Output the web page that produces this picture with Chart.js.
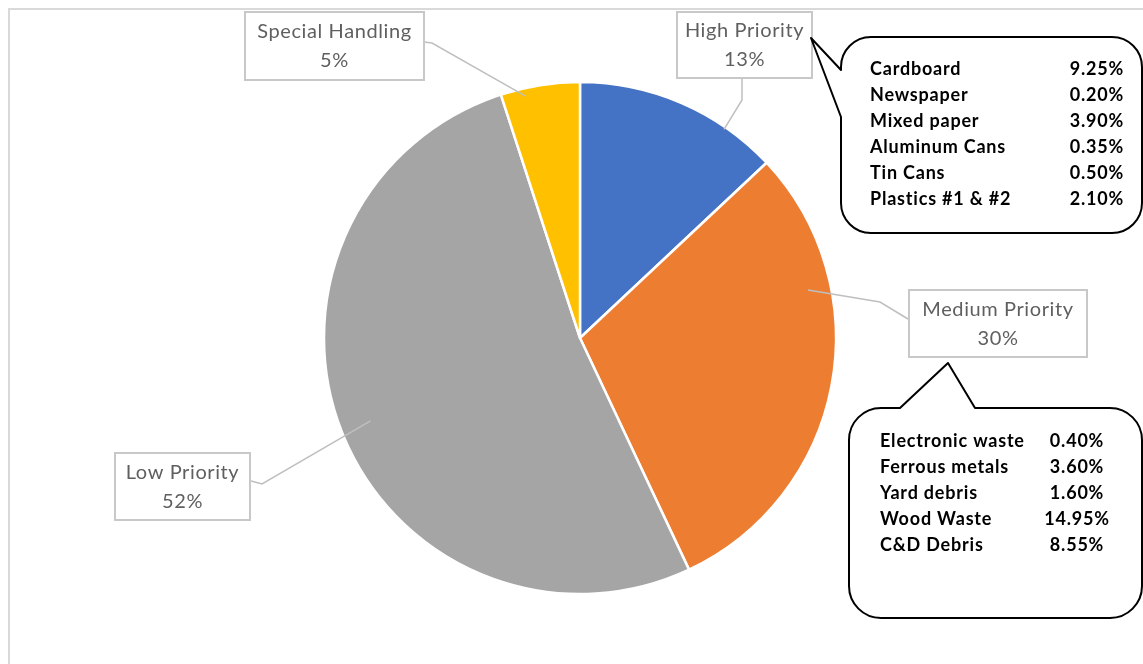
<!DOCTYPE html>
<html>
<head>
<meta charset="utf-8">
<title>Waste stream priority</title>
<script src="https://cdn.jsdelivr.net/npm/chart.js@4.4.1/dist/chart.umd.min.js"></script>
<style>
  html, body { margin: 0; padding: 0; background: #ffffff; }
  #wrap { width: 1143px; height: 664px; position: relative; overflow: hidden; }
</style>
</head>
<body>
<div id="wrap"><canvas id="pie" width="1143" height="664"></canvas></div>
<script>
// Share of the waste stream by handling priority
const categories = ['High Priority', 'Medium Priority', 'Low Priority', 'Special Handling'];
const shares = [13, 30, 52, 5];
const sliceColors = ['#4472C4', '#ED7D31', '#A5A5A5', '#FFC000'];

// Breakdown of the high priority group
const highItems = ['Cardboard', 'Newspaper', 'Mixed paper', 'Aluminum Cans', 'Tin Cans', 'Plastics #1 & #2'];
const highValues = [9.25, 0.20, 3.90, 0.35, 0.50, 2.10];

// Breakdown of the medium priority group
const mediumItems = ['Electronic waste', 'Ferrous metals', 'Yard debris', 'Wood Waste', 'C&D Debris'];
const mediumValues = [0.40, 3.60, 1.60, 14.95, 8.55];

const LABEL_FONT = '20px Lato, "Liberation Sans", sans-serif';
const BOLD_FONT = 'bold 18px Lato, "Liberation Sans", sans-serif';

// Label boxes and their leader lines; the line starts on the slice itself
const labelLayout = [
  { box: [677, 12, 135, 66], along: 0.74, depth: 0.99, path: [[742, 100], [742, 78]] },
  { box: [909, 290, 178, 67], along: 0.29, depth: 0.91, path: [[880, 302], [908, 319]] },
  { box: [115, 453, 135, 67], along: 0.50, depth: 0.88, path: [[262, 484], [251, 481]] },
  { box: [245, 12, 179, 68], along: 0.29, depth: 0.97, path: [[432, 43], [424, 42]] }
];

function pct(v) { return v.toFixed(2) + '%'; }

const annotationPlugin = {
  id: 'pieAnnotations',
  beforeDraw(chart) {
    const ctx = chart.ctx;
    ctx.save();
    ctx.strokeStyle = '#d9d9d9';
    ctx.lineWidth = 2;
    ctx.strokeRect(9, 9, 1200, 700);
    ctx.restore();
  },
  afterDraw(chart) {
    const ctx = chart.ctx;
    const arcs = chart.getDatasetMeta(0).data;
    ctx.save();

    // leader lines
    labelLayout.forEach((lay, i) => {
      const p = arcs[i].getProps(['x', 'y', 'startAngle', 'endAngle', 'outerRadius'], true);
      const a = p.startAngle + (p.endAngle - p.startAngle) * lay.along;
      const ax = p.x + Math.cos(a) * p.outerRadius * lay.depth;
      const ay = p.y + Math.sin(a) * p.outerRadius * lay.depth;
      ctx.beginPath();
      ctx.moveTo(ax, ay);
      lay.path.forEach(pt => ctx.lineTo(pt[0], pt[1]));
      ctx.strokeStyle = '#bfbfbf';
      ctx.lineWidth = 1.5;
      ctx.stroke();
    });

    // label boxes
    labelLayout.forEach((lay, i) => {
      const [bx, by, bw, bh] = lay.box;
      ctx.fillStyle = '#ffffff';
      ctx.fillRect(bx, by, bw, bh);
      ctx.strokeStyle = '#c8c8c8';
      ctx.lineWidth = 2;
      ctx.strokeRect(bx, by, bw, bh);
      ctx.fillStyle = '#5f5f5f';
      ctx.font = LABEL_FONT;
      ctx.letterSpacing = '0.6px';
      ctx.textAlign = 'center';
      ctx.textBaseline = 'middle';
      const cx = bx + bw / 2;
      ctx.fillText(categories[i], cx, by + bh / 2 - 14);
      ctx.fillText(shares[i] + '%', cx, by + bh / 2 + 15);
    });
    ctx.letterSpacing = '0px';

    // speech-bubble callouts
    function bubble(build) {
      ctx.beginPath();
      build();
      ctx.closePath();
      ctx.fillStyle = '#ffffff';
      ctx.fill();
      ctx.strokeStyle = '#000000';
      ctx.lineWidth = 2;
      ctx.lineJoin = 'round';
      ctx.stroke();
    }

    // high priority bubble, tail on its left side
    bubble(() => {
      const x0 = 841, y0 = 37, x1 = 1142, y1 = 233, r = 30;
      ctx.moveTo(x0 + r, y0);
      ctx.lineTo(x1 - r, y0);
      ctx.arcTo(x1, y0, x1, y0 + r, r);
      ctx.lineTo(x1, y1 - r);
      ctx.arcTo(x1, y1, x1 - r, y1, r);
      ctx.lineTo(x0 + r, y1);
      ctx.arcTo(x0, y1, x0, y1 - r, r);
      ctx.lineTo(x0, 117);
      ctx.lineTo(811, 38);
      ctx.lineTo(x0, 70);
      ctx.arcTo(x0, y0, x0 + r, y0, r);
    });

    // medium priority bubble, tail on its top side
    bubble(() => {
      const x0 = 849, y0 = 408, x1 = 1142, y1 = 618, r = 32;
      ctx.moveTo(x0, y0 + r);
      ctx.arcTo(x0, y0, x0 + r, y0, r);
      ctx.lineTo(900, y0);
      ctx.lineTo(948, 363);
      ctx.lineTo(975, y0);
      ctx.lineTo(x1 - r, y0);
      ctx.arcTo(x1, y0, x1, y0 + r, r);
      ctx.lineTo(x1, y1 - r);
      ctx.arcTo(x1, y1, x1 - r, y1, r);
      ctx.lineTo(x0 + r, y1);
      ctx.arcTo(x0, y1, x0, y1 - r, r);
    });

    ctx.fillStyle = '#000000';
    ctx.font = BOLD_FONT;
    ctx.letterSpacing = '0.8px';
    ctx.textBaseline = 'middle';
    highItems.forEach((name, i) => {
      const y = 69 + i * 26;
      ctx.textAlign = 'left';
      ctx.fillText(name, 870, y);
      ctx.textAlign = 'right';
      ctx.fillText(pct(highValues[i]), 1124, y);
    });
    mediumItems.forEach((name, i) => {
      const y = 441 + i * 26;
      ctx.textAlign = 'left';
      ctx.fillText(name, 880, y);
      ctx.textAlign = 'center';
      ctx.fillText(pct(mediumValues[i]), 1077, y);
    });
    ctx.letterSpacing = '0px';

    ctx.restore();
  }
};

new Chart(document.getElementById('pie'), {
  type: 'pie',
  data: {
    labels: categories,
    datasets: [{
      data: shares,
      backgroundColor: sliceColors,
      borderColor: '#ffffff',
      borderWidth: 2.5
    }]
  },
  options: {
    responsive: false,
    animation: false,
    devicePixelRatio: 1,
    radius: 256,
    layout: { padding: { left: 324, right: 307, top: 82, bottom: 70 } },
    plugins: {
      legend: { display: false },
      tooltip: { enabled: false }
    }
  },
  plugins: [annotationPlugin]
});
</script>
</body>
</html>
